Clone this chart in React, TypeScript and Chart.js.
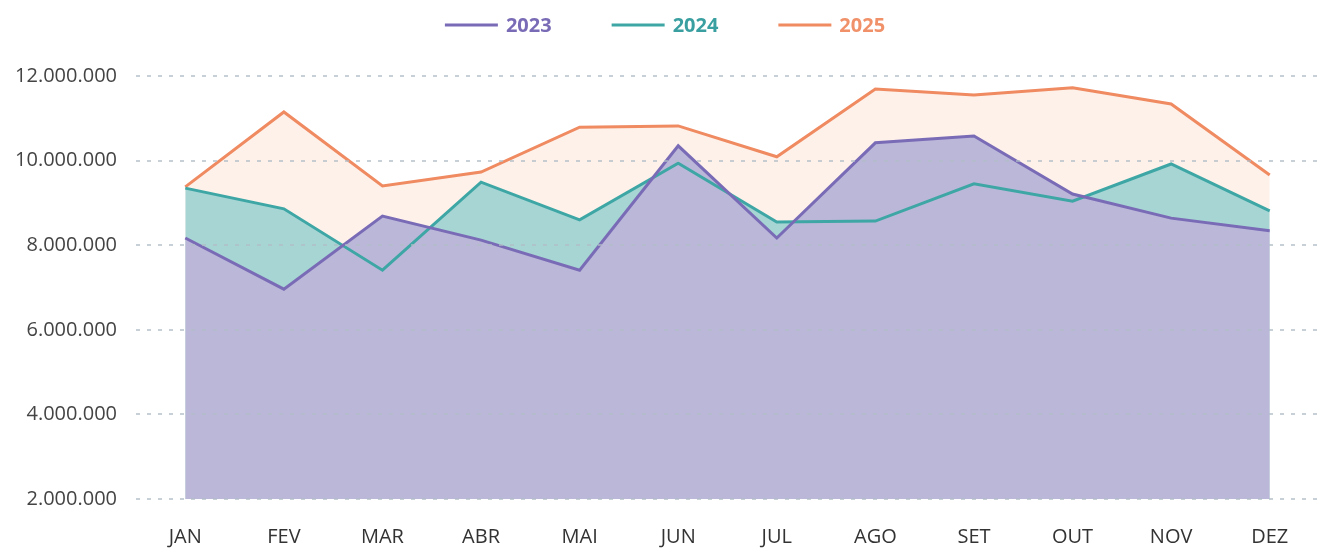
import React, { useEffect, useRef } from "react";
import { Chart, registerables } from "chart.js";

Chart.register(...registerables);

const months = ["JAN", "FEV", "MAR", "ABR", "MAI", "JUN", "JUL", "AGO", "SET", "OUT", "NOV", "DEZ"];
const seriesNames = ["2023", "2024", "2025"];
const values2023 = [8170000, 6960000, 8690000, 8120000, 7410000, 10350000, 8170000, 10420000, 10580000, 9210000, 8640000, 8340000];
const values2024 = [9350000, 8860000, 7410000, 9490000, 8600000, 9940000, 8550000, 8570000, 9450000, 9040000, 9920000, 8810000];
const values2025 = [9380000, 11150000, 9400000, 9730000, 10790000, 10820000, 10090000, 11690000, 11550000, 11720000, 11340000, 9660000];
const yMin = 2000000;
const yMax = 12000000;
const yStep = 2000000;

const lineColors = ["#7a6bb6", "#3ea7a5", "#ef8a61"];
const fillColors = ["#bbb7d9", "#a6d5d4", "#fdf1ea"];
const legendTextColors = ["#7a6bb6", "#3a9fa0", "#f0916a"];

const fmt = (v: number) => String(Math.round(v)).replace(/\B(?=(\d{3})+(?!\d))/g, ".");

const customLegend = {
  id: "customLegend",
  afterDraw(chart: any) {
    const ctx = chart.ctx;
    const lineW = 53;
    const gapText = 8;
    const gapItems = 60;
    const cy = 25;
    ctx.save();
    ctx.font = "bold 20px 'Open Sans'";
    const items = chart.data.datasets.map((ds: any, i: number) => {
      const tw = ctx.measureText(ds.label).width;
      return { label: ds.label, w: lineW + gapText + tw, i };
    });
    const total = items.reduce((s: number, it: any) => s + it.w, 0) + gapItems * (items.length - 1);
    let x = 665 - total / 2;
    items.forEach((it: any) => {
      ctx.strokeStyle = lineColors[it.i];
      ctx.lineWidth = 3;
      ctx.beginPath();
      ctx.moveTo(x, cy);
      ctx.lineTo(x + lineW, cy);
      ctx.stroke();
      ctx.fillStyle = legendTextColors[it.i];
      ctx.textAlign = "left";
      ctx.textBaseline = "middle";
      ctx.fillText(it.label, x + lineW + gapText, cy + 1);
      x += it.w + gapItems;
    });
    ctx.restore();
  },
};

export default function App() {
  const ref = useRef<HTMLCanvasElement | null>(null);
  useEffect(() => {
    if (!ref.current) return;
    const all = [values2023, values2024, values2025];
    const chart = new Chart(ref.current, {
      type: "line",
      data: {
        labels: months,
        datasets: all.map((vals, i) => ({
          label: seriesNames[i],
          data: vals,
          borderColor: lineColors[i],
          backgroundColor: fillColors[i],
          borderWidth: 3,
          fill: "start",
          pointRadius: 0,
          tension: 0,
        })),
      },
      options: {
        animation: false,
        responsive: true,
        maintainAspectRatio: false,
        layout: { padding: { top: 76, left: 0, right: 0, bottom: 0 } },
        plugins: {
          legend: { display: false },
          tooltip: { enabled: false },
          filler: { drawTime: "beforeDatasetsDraw" },
        },
        scales: {
          x: {
            offset: true,
            afterFit: (s: any) => {
              s.height = 50;
            },
            grid: { display: false, drawTicks: false },
            border: { display: false },
            ticks: {
              padding: 26,
              color: "#333",
              font: { family: "'Open Sans'", size: 20 },
              maxRotation: 0,
              autoSkip: false,
            },
          },
          y: {
            min: yMin,
            max: yMax,
            afterFit: (s: any) => {
              s.width = 136;
            },
            border: { display: false, dash: [4, 7] },
            grid: {
              color: "rgba(175,188,198,0.7)",
              lineWidth: 2,
              drawTicks: false,
              z: 1,
            },
            ticks: {
              stepSize: yStep,
              padding: 19,
              color: "#444",
              font: { family: "'Open Sans'", size: 20 },
              callback: (v: any) => fmt(Number(v)),
            },
          },
        },
      },
      plugins: [customLegend],
    });
    return () => chart.destroy();
  }, []);
  return (
    <div style={{ position: "fixed", left: 0, top: 0, width: 1319, height: 549, background: "#fff" }}>
      <canvas ref={ref} />
    </div>
  );
}
